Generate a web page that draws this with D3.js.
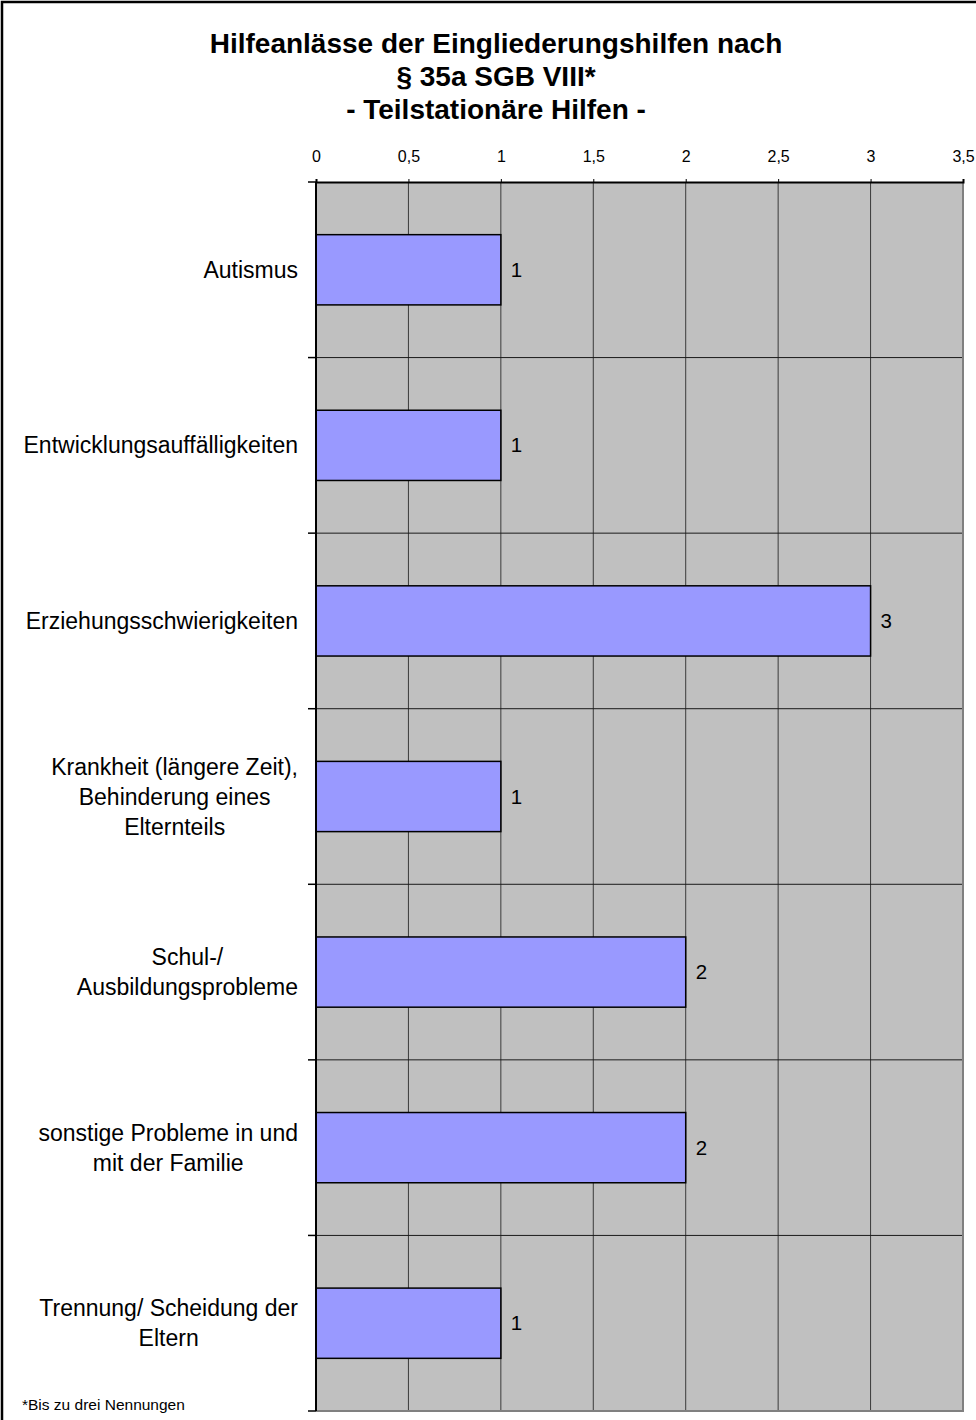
<!DOCTYPE html>
<html>
<head>
<meta charset="utf-8">
<script src="https://cdn.jsdelivr.net/npm/d3@7"></script>
<style>
  body { margin: 0; background: #fff; }
  svg { display: block; font-family: "Liberation Sans", Arial, sans-serif; }
</style>
</head>
<body>
<div id="chart"></div>
<script>
// chart data
const categories = [
  "Autismus",
  "Entwicklungsauffälligkeiten",
  "Erziehungsschwierigkeiten",
  "Krankheit (längere Zeit),|Behinderung eines|Elternteils",
  "Schul-/|Ausbildungsprobleme",
  "sonstige Probleme in und|mit der Familie",
  "Trennung/ Scheidung der|Eltern"
];
const values = [1, 1, 3, 1, 2, 2, 1];
const xTicks = [0, 0.5, 1, 1.5, 2, 2.5, 3, 3.5];
const titleLines = ["Hilfeanlässe der Eingliederungshilfen nach", "§ 35a SGB VIII*", "- Teilstationäre Hilfen -"];
const footnote = "*Bis zu drei Nennungen";

const W = 976, H = 1420;
const plot = { left: 316, top: 182, right: 963, bottom: 1411 };

const svg = d3.select("#chart").append("svg")
  .attr("width", W)
  .attr("height", H);

// outer frame (only left/top are visible in the picture)
svg.append("rect")
  .attr("x", 2).attr("y", 2)
  .attr("width", W + 20).attr("height", H + 20)
  .attr("fill", "#fff")
  .attr("stroke", "#000")
  .attr("stroke-width", 2.5);

// title
svg.append("g").selectAll("text")
  .data(titleLines)
  .enter().append("text")
  .attr("x", 496)
  .attr("y", (d, i) => 53 + i * 33)
  .attr("text-anchor", "middle")
  .attr("font-size", 28)
  .attr("font-weight", "bold")
  .text(d => d);

const x = d3.scaleLinear().domain([0, 3.5]).range([plot.left, plot.right]);
const y = d3.scaleBand()
  .domain(categories)
  .range([plot.top, plot.bottom])
  .paddingInner(0.6)
  .paddingOuter(0.3);

// plot background
svg.append("rect")
  .attr("x", plot.left).attr("y", plot.top)
  .attr("width", plot.right - plot.left)
  .attr("height", plot.bottom - plot.top)
  .attr("fill", "#c0c0c0");

// vertical grid
svg.append("g").selectAll("line")
  .data(xTicks.slice(1, -1))
  .enter().append("line")
  .attr("x1", d => x(d)).attr("x2", d => x(d))
  .attr("y1", plot.top).attr("y2", plot.bottom)
  .attr("stroke", "#3a3a3a")
  .attr("stroke-width", 1);

// horizontal lines at category boundaries
const step = y.step();
const bounds = d3.range(1, categories.length).map(i => plot.top + i * step);
svg.append("g").selectAll("line")
  .data(bounds)
  .enter().append("line")
  .attr("x1", plot.left).attr("x2", plot.right)
  .attr("y1", d => d).attr("y2", d => d)
  .attr("stroke", "#1a1a1a")
  .attr("stroke-width", 1);

// plot border right/bottom
svg.append("path")
  .attr("d", `M${plot.right},${plot.top}V${plot.bottom}H${plot.left}`)
  .attr("fill", "none")
  .attr("stroke", "#808080")
  .attr("stroke-width", 2);

// bars
svg.append("g").selectAll("rect")
  .data(values)
  .enter().append("rect")
  .attr("x", x(0))
  .attr("y", (d, i) => y(categories[i]))
  .attr("width", d => x(d) - x(0))
  .attr("height", y.bandwidth())
  .attr("fill", "#9999ff")
  .attr("stroke", "#000")
  .attr("stroke-width", 1.5);

// value labels
svg.append("g").selectAll("text")
  .data(values)
  .enter().append("text")
  .attr("x", d => x(d) + 10)
  .attr("y", (d, i) => y(categories[i]) + y.bandwidth() / 2 + 7)
  .attr("font-size", 20.5)
  .text(d => d);

// top axis
const xAxis = svg.append("g")
  .attr("transform", `translate(0,${plot.top})`)
  .call(d3.axisTop(x).tickValues(xTicks).tickSize(3).tickPadding(17)
    .tickFormat(d => String(d).replace(".", ",")));
xAxis.select(".domain").attr("stroke", "#000").attr("stroke-width", 2);
xAxis.selectAll("text").attr("font-size", 16).attr("fill", "#000")
  .attr("font-family", "Liberation Sans, Arial, sans-serif");

// left axis line and boundary ticks
svg.append("line")
  .attr("x1", plot.left).attr("x2", plot.left)
  .attr("y1", plot.top).attr("y2", plot.bottom)
  .attr("stroke", "#000").attr("stroke-width", 2);
svg.append("g").selectAll("line")
  .data([plot.top].concat(bounds, [plot.bottom]))
  .enter().append("line")
  .attr("x1", plot.left - 8).attr("x2", plot.left)
  .attr("y1", d => d).attr("y2", d => d)
  .attr("stroke", "#000").attr("stroke-width", 1.5);

// category labels: block right-aligned, lines centered
const labelRight = 298;
const lineH = 30;
categories.forEach((c, i) => {
  const lines = c.split("|");
  const cy = y(c) + y.bandwidth() / 2;
  const g = svg.append("g");
  const texts = g.selectAll("text")
    .data(lines)
    .enter().append("text")
    .attr("font-size", 23)
    .attr("y", (d, j) => cy + (j - (lines.length - 1) / 2) * lineH + 8)
    .text(d => d);
  let maxW = 0;
  texts.each(function () { maxW = Math.max(maxW, this.getComputedTextLength()); });
  texts.attr("x", labelRight - maxW / 2).attr("text-anchor", "middle");
});

// footnote
svg.append("text")
  .attr("x", 22).attr("y", 1410)
  .attr("font-size", 15.5)
  .text(footnote);
</script>
</body>
</html>
